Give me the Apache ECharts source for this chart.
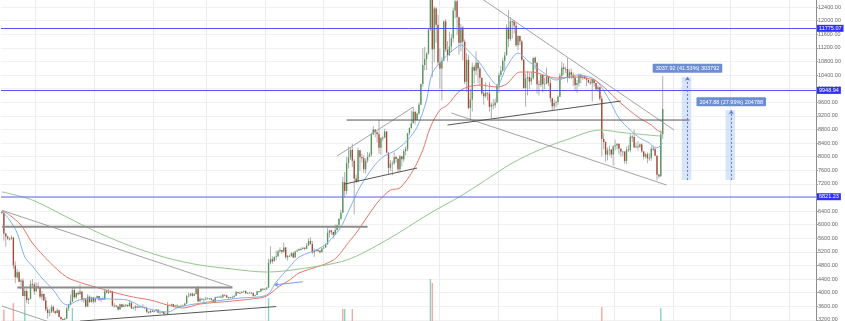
<!DOCTYPE html>
<html>
<head>
<meta charset="utf-8">
<title>BTC daily</title>
<script src="https://cdn.jsdelivr.net/npm/echarts@6/dist/echarts.min.js"></script>
<style>
  html, body { margin: 0; padding: 0; background: #ffffff; }
  #chart { width: 845px; height: 321px; }
</style>
</head>
<body>
<div id="chart"></div>
<script>
/* global echarts */

// first candle date and number of day slots on the time axis (incl. empty future)
const startDate = Date.UTC(2018, 10, 13);
const totalDays = 428;

// daily candles: [open, high, low, close]
const ohlc = [
    // Nov 2018 (13-30)
    [6380,6400,6300,6350],[6350,6390,5530,5740],[5740,5760,5350,5650],[5650,5680,5550,5590],
    [5590,5610,5530,5580],[5580,5680,5560,5620],[5620,5630,4700,4800],[4800,4920,4280,4450],
    [4450,4690,4410,4600],[4600,4640,4300,4320],[4320,4400,4100,4360],[4360,4420,3890,3900],
    [3900,4120,3500,4050],[4050,4100,3700,3780],[3780,3850,3660,3820],[3820,4360,3810,4250],
    [4250,4400,4150,4240],[4240,4300,3940,4040],
    // Dec 2018
    [4040,4300,4020,4190],[4190,4300,4100,4140],[4140,4150,3830,3880],[3880,4050,3780,3960],
    [3960,3970,3760,3770],[3770,3870,3450,3500],[3500,3580,3230,3400],[3400,3520,3300,3420],
    [3420,3640,3400,3580],[3580,3620,3400,3450],[3450,3470,3360,3400],[3400,3540,3390,3480],
    [3480,3490,3270,3280],[3280,3300,3180,3220],[3220,3240,3180,3200],[3200,3270,3190,3230],
    [3230,3590,3230,3540],[3540,3670,3460,3650],[3650,3940,3620,3740],[3740,4140,3720,4070],
    [4070,4180,3820,3860],[3860,4000,3820,3990],[3990,4040,3920,3950],[3950,4240,3950,4030],
    [4030,4030,3730,3780],[3780,3850,3700,3800],[3800,3830,3560,3590],[3590,3960,3580,3880],
    [3880,3920,3710,3720],[3720,3880,3700,3860],[3860,3870,3680,3740],
    // Jan 2019
    [3740,3850,3700,3840],[3840,3920,3800,3900],[3900,3900,3760,3790],[3790,3850,3730,3820],
    [3820,3880,3780,3800],[3800,4090,3780,4040],[4040,4070,3980,4000],[4000,4110,3960,4010],
    [4010,4070,3990,4030],[4030,4050,3580,3620],[3620,3690,3560,3620],[3620,3640,3560,3590],
    [3590,3610,3470,3500],[3500,3670,3500,3660],[3660,3670,3550,3580],[3580,3670,3580,3620],
    [3620,3660,3560,3640],[3640,3650,3580,3600],[3600,3760,3600,3700],[3700,3720,3520,3540],
    [3540,3580,3510,3550],[3550,3640,3460,3590],[3590,3610,3540,3560],[3560,3610,3550,3590],
    [3590,3600,3550,3580],[3580,3660,3570,3580],[3580,3590,3510,3550],[3550,3560,3400,3440],
    [3440,3450,3380,3410],[3410,3490,3400,3460],[3460,3500,3430,3440],
    // Feb 2019
    [3440,3480,3420,3460],[3460,3510,3440,3500],[3500,3500,3400,3410],[3410,3430,3390,3410],
    [3410,3440,3400,3430],[3430,3440,3350,3370],[3370,3390,3360,3370],[3370,3730,3360,3630],
    [3630,3650,3610,3630],[3630,3680,3600,3660],[3660,3660,3590,3600],[3600,3640,3570,3620],
    [3620,3660,3580,3600],[3600,3620,3570,3580],[3580,3650,3580,3600],[3600,3650,3600,3620],
    [3620,3700,3600,3680],[3680,3930,3670,3890],[3890,4000,3860,3910],[3910,3980,3890,3970],
    [3970,4000,3880,3910],[3910,3980,3900,3960],[3960,4160,3950,4130],[4130,4200,3730,3740],
    [3740,3860,3740,3820],[3820,3830,3780,3800],[3800,3830,3690,3810],[3810,3880,3780,3820],
    // Mar 2019
    [3820,3860,3810,3830],[3830,3840,3790,3830],[3830,3840,3770,3790],[3790,3800,3700,3710],
    [3710,3880,3700,3860],[3860,3900,3840,3870],[3870,3910,3860,3880],[3880,3920,3830,3860],
    [3860,3960,3850,3940],[3940,3940,3890,3920],[3920,3930,3840,3860],[3860,3880,3810,3870],
    [3870,3880,3840,3860],[3860,3910,3830,3860],[3860,3920,3860,3910],[3910,4050,3900,4020],
    [4020,4020,3970,3990],[3990,4040,3960,3990],[3990,4040,3980,4020],[4020,4060,4000,4040],
    [4040,4070,3960,3980],[3980,4010,3970,3990],[3990,4020,3980,4000],[4000,4010,3970,3990],
    [3990,4000,3880,3910],[3910,3940,3890,3930],[3930,4050,3920,4040],[4040,4050,4010,4030],
    [4030,4120,4020,4110],[4110,4130,4060,4100],[4100,4120,4090,4110],
    // Apr 2019
    [4110,4160,4080,4150],[4150,5000,4140,4880],[4880,5360,4830,4980],[4980,5070,4850,4920],
    [4920,5060,4920,5050],[5050,5230,4950,5070],[5070,5260,5050,5220],[5220,5330,5170,5250],
    [5250,5250,5140,5200],[5200,5470,5180,5330],[5330,5330,4990,5040],[5040,5110,4940,5080],
    [5080,5110,5050,5080],[5080,5180,5050,5160],[5160,5200,5010,5030],[5030,5230,5030,5210],
    [5210,5270,5200,5240],[5240,5300,5240,5280],[5280,5330,5240,5280],[5280,5340,5270,5320],
    [5320,5330,5240,5290],[5290,5460,5280,5380],[5380,5600,5370,5520],[5520,5630,5410,5430],
    [5430,5520,5140,5180],[5180,5300,5050,5240],[5240,5270,5200,5250],[5250,5280,5190,5230],
    [5230,5250,5150,5190],[5190,5320,5180,5300],
    // May 2019
    [5300,5360,5290,5330],[5330,5440,5320,5420],[5420,5900,5420,5760],[5760,5850,5620,5830],
    [5830,5850,5700,5780],[5780,5790,5600,5700],[5700,6000,5700,5840],[5840,6000,5800,5980],
    [5980,6180,5980,6170],[6170,6430,6140,6350],[6350,7400,6350,7250],[7250,7550,6800,6990],
    [6990,8000,6880,7810],[7810,8300,7650,7980],[7980,8280,7900,8200],[8200,8380,7690,7880],
    [7880,7930,6300,7360],[7360,7470,7220,7260],[7260,8260,7250,8190],[8190,8190,7580,7990],
    [7990,8090,7830,7950],[7950,8040,7520,7630],[7630,7960,7500,7880],[7880,8140,7820,8000],
    [8000,8120,7980,8060],[8060,8690,8000,8660],[8660,8900,8630,8800],[8800,8810,8570,8720],
    [8720,8740,8420,8660],[8660,9080,8090,8260],[8260,8580,8050,8550],
    // Jun 2019
    [8550,8620,8460,8560],[8560,8820,8540,8740],[8740,8750,8100,8120],[8120,8120,7480,7670],
    [7670,7900,7580,7790],[7790,7880,7450,7800],[7800,8130,7770,7990],[7990,8030,7820,7930],
    [7930,7960,7520,7630],[7630,8060,7560,8010],[8010,8020,7710,7920],[7920,8220,7850,8160],
    [8160,8300,8040,8230],[8230,8700,8160,8690],[8690,8860,8630,8840],[8840,9360,8830,8980],
    [8980,9460,8980,9320],[9320,9330,8950,9080],[9080,9300,9050,9270],[9270,9600,9230,9530],
    [9530,10150,9520,10140],[10140,11200,10060,10700],[10700,11230,10540,10870],[10870,11080,10550,11030],
    [11030,11750,11000,11740],[11740,13800,11700,12930],[12930,13330,10340,11160],[11160,12430,10780,12360],
    [12360,12400,11350,11880],[11880,12180,10680,10770],
    // Jul 2019
    [10770,11190,10000,10590],[10590,10930,9650,10820],[10820,12000,10820,11980],[11980,12050,11080,11150],
    [11150,11400,10800,10980],[10980,11680,10980,11240],[11240,11600,11090,11480],[11480,12380,11360,12300],
    [12300,12800,12070,12570],[12570,13150,11580,12100],[12100,12100,11000,11350],[11350,11900,11100,11800],
    [11800,11840,10830,11380],[11380,11450,10130,10200],[10200,11050,9900,10850],[10850,11000,9400,9430],
    [9430,9990,9080,9680],[9680,10770,9330,10640],[10640,10700,10150,10530],[10530,11100,10400,10760],
    [10760,10840,10160,10590],[10590,10650,10070,10320],[10320,10320,9820,9860],[9860,9920,9530,9780],
    [9780,10180,9730,9880],[9880,9890,9660,9860],[9860,10190,9330,9470],[9470,9600,9130,9530],
    [9530,9690,9390,9510],[9510,9710,9430,9590],[9590,10130,9570,10090],
    // Aug 2019
    [10090,10470,9880,10400],[10400,10660,10340,10530],[10530,10910,10500,10820],[10820,11080,10560,10980],
    [10980,11890,10980,11800],[11800,12310,11220,11460],[11460,12100,11400,11980],[11980,12000,11470,11970],
    [11970,12010,11630,11850],[11850,11960,11230,11280],[11280,11570,11130,11550],[11550,11560,11280,11390],
    [11390,11440,10800,10850],[10850,10870,9990,10020],[10020,10440,9470,10300],[10300,10510,9800,10340],
    [10340,10460,9990,10210],[10210,10480,10110,10310],[10310,10910,10270,10910],[10910,10950,10560,10760],
    [10760,10770,9860,10130],[10130,10240,9800,10110],[10110,10420,10050,10400],[10400,10420,9890,10130],
    [10130,10330,9980,10140],[10140,10620,10140,10360],[10360,10380,10070,10170],[10170,10280,9600,9720],
    [9720,9730,9340,9480],[9480,9680,9380,9580],[9580,9650,9450,9600],
    // Sep 2019
    [9600,9800,9520,9760],[9760,10450,9750,10380],[10380,10790,10290,10620],[10620,10750,10400,10580],
    [10580,10650,10460,10580],[10580,10900,10180,10320],[10320,10570,10300,10480],[10480,10590,10290,10410],
    [10410,10480,10070,10320],[10320,10380,9960,10110],[10110,10260,9870,10160],[10160,10450,10060,10410],
    [10410,10440,10150,10350],[10350,10390,10260,10360],[10360,10380,10280,10300],[10300,10360,10080,10260],
    [10260,10270,10160,10190],[10190,10260,10110,10160],[10160,10300,9620,10270],[10270,10270,10060,10170],
    [10170,10170,9960,9980],[9980,10100,9900,10040],[10040,10060,9650,9700],[9700,9790,8010,8520],
    [8520,8690,8220,8430],[8430,8450,7850,8060],[8060,8270,7890,8190],[8190,8320,8030,8210],
    [8210,8220,7960,8060],[8060,8340,7740,8300],
    // Oct 2019 (1-26)
    [8300,8500,8180,8330],[8330,8390,8210,8380],[8380,8390,8060,8230],[8230,8240,8000,8150],
    [8150,8170,8010,8150],[8150,8160,7790,7870],[7870,8300,7780,8210],[8210,8340,8140,8190],
    [8190,8670,8120,8590],[8590,8640,8430,8580],[8580,8800,8270,8270],[8270,8420,8260,8300],
    [8300,8450,8180,8290],[8290,8390,8260,8360],[8360,8400,8110,8150],[8150,8170,7920,8000],
    [8000,8110,7950,8070],[8070,8120,7810,7950],[7950,8100,7880,7960],[7960,8300,7880,8230],
    [8230,8330,8160,8220],[8220,8300,8030,8030],[8030,8040,7300,7470],[7470,7490,7360,7420],
    [7420,8770,7400,8660],[8660,10370,8520,9403.67]
];

// moving averages: [day index, price]
const maFast = [
    [0,6400],[4,6135],[8,5752],[12,5046],[16,4781],[21,4428],[27,4075],[32,3693],[35,3634],[39,3752],
    [46,3840],[57,3810],[66,3781],[74,3575],[87,3428],[93,3575],[108,3722],[125,3840],[139,3928],[144,4310],
    [151,4752],[156,5046],[168,5340],[177,5841],[183,6517],[188,7105],[195,7694],[200,7988],[207,8194],[213,8488],
    [218,8871],[223,9666],[226,10460],[234,10989],[239,11225],[241,11284],[246,11048],[251,10754],[256,10342],[260,10107],
    [265,10636],[271,11048],[277,10784],[284,10489],[291,10254],[302,10401],[310,10313],[314,10107],[319,9666],[324,9136],
    [330,8783],[335,8547],[340,8400],[343,8253],[345,8283],[347,8400]
];
const maMid = [
    [0,6429],[4,6282],[10,5988],[16,5458],[25,4899],[34,4457],[42,4281],[51,4134],[60,3987],[69,3869],
    [78,3781],[87,3634],[95,3546],[104,3664],[121,3752],[135,3840],[139,3900],[146,4200],[151,4369],[156,4575],
    [174,4958],[183,5546],[186,5752],[197,6635],[204,7017],[209,7076],[216,7606],[221,8194],[225,8871],[230,9371],
    [234,9519],[241,9960],[251,10107],[260,10048],[265,10136],[272,10489],[279,10489],[286,10371],[291,10313],[301,10342],
    [311,10254],[316,10048],[325,9577],[334,9165],[341,8930],[344,8783],[347,8700]
];
const maSlow = [
    [0,6964],[16,6723],[34,6224],[51,5752],[69,5340],[87,5016],[104,4810],[121,4693],[139,4605],[156,4693],
    [181,4958],[202,5546],[225,6341],[240,6811],[254,7311],[268,7812],[282,8194],[296,8488],[314,8783],[328,8695],
    [347,8600]
];

// volume bars that rise into view: [day index, volume, 1 = up / 0 = down]
const volumeSpikes = [
    [1,7,0],[6,8.9,0],[12,7,1],[37,7.5,1],[140,10.4,1],[179,7.2,0],[180,7.2,1],[184,7.2,0],
    [225,16,1],[226,14.8,0],[315,7.8,0],[346,7.5,1]
];

// drawings: each line is [[day index, price], [day index, price]]
const lightLines = [
    [[0,6420],[121,4165]],
    [[0,3605],[25,3134]],
    [[176,8018],[216,9460]],
    [[243,12990],[353,8783]],
    [[236,9283],[349,7165]]
];
const darkLines = [
    [[41,3160],[144,3590]],
    [[180,7194],[218,7665]],
    [[181,9077],[361,9077]],
    [[234,8930],[325,9636]]
];
const thickLines = [
    [[8,4150],[121,4150]],
    [[0,5940],[192,5940]]
];
const arrowLine = [[158,4320],[143,4225]];

// horizontal levels and last price
const resistanceLevels = [11775.07, 9948.94];
const supportLevel = 6821.23;
const lastPrice = 9403.67;

// price range measurements
const measureSpan = [[357,362],[380,385]];
const measureBase = [7315, 7316];
const measureChange = [3037.92, 2047.88];
const measurePct = [41.53, 27.99];
const measureTicks = [303792, 204788];

const upColor = '#53995f';
const downColor = '#a9493a';
const labelFont = 'Liberation Sans';

const buildDates = () => {
    const out = [];
    for (let i = 0; i < totalDays; i++) {
        out.push(new Date(startDate + i * 86400000).toISOString().slice(0, 10));
    }
    return out;
};

function renderCandle(params, api) {
    const i = api.value(0);
    const open = api.value(1), high = api.value(2), low = api.value(3), close = api.value(4);
    const hi = api.coord([i, high]);
    const lo = api.coord([i, low]);
    const o = api.coord([i, open]);
    const c = api.coord([i, close]);
    const w = api.size([1, 0])[0] * 0.72;
    return {
        type: 'group',
        children: [
            {
                type: 'line',
                shape: { x1: hi[0], y1: hi[1], x2: lo[0], y2: lo[1] },
                style: { stroke: '#b0b0b0', lineWidth: 1 }
            },
            {
                type: 'rect',
                shape: {
                    x: o[0] - w / 2,
                    y: Math.min(o[1], c[1]),
                    width: w,
                    height: Math.max(Math.abs(o[1] - c[1]), 0.8)
                },
                style: { fill: close >= open ? upColor : downColor }
            }
        ]
    };
}

const segLine = (seg, color, width) => ({
    type: 'line',
    data: seg,
    showSymbol: false,
    silent: true,
    z: 4,
    lineStyle: { color: color, width: width },
    animation: false
});

const axisTag = (bg) => ({
    show: true,
    position: 'end',
    distance: 1,
    formatter: p => Number(p.value).toFixed(2),
    color: '#ffffff',
    backgroundColor: bg,
    padding: [1, 2, 0, 2],
    fontSize: 5.5,
    fontFamily: labelFont
});

function getOption() {
    const dates = buildDates();

    const levelMarks = resistanceLevels.map(v => ({
        yAxis: v,
        lineStyle: { color: '#5555ff', width: 1, type: 'solid' },
        label: axisTag('#3030ff')
    }));
    levelMarks.push({
        yAxis: supportLevel,
        lineStyle: { color: 'rgba(110,110,255,0.55)', width: 2, type: 'solid' },
        label: axisTag('#3030ff')
    });
    levelMarks.push({
        yAxis: lastPrice,
        lineStyle: { opacity: 0 },
        label: axisTag('#5b9e7b')
    });

    const measureLines = measureSpan.map((span, k) => {
        const mid = Math.round((span[0] + span[1]) / 2);
        const text = measureChange[k].toFixed(2) + ' (' + measurePct[k].toFixed(2) + '%) ' + measureTicks[k];
        return [
            { coord: [mid, measureBase[k]] },
            {
                coord: [mid, measureBase[k] + measureChange[k]],
                lineStyle: { color: '#5a7fc9', width: 1, type: [2, 2] },
                label: {
                    show: true,
                    position: 'end',
                    distance: 4,
                    formatter: text,
                    color: '#ffffff',
                    backgroundColor: '#6d8fd2',
                    padding: [2, 3, 1, 3],
                    borderRadius: 1,
                    fontSize: 5.5,
                    fontFamily: labelFont
                }
            }
        ];
    });
    measureLines.forEach(m => { m[0].lineStyle = m[1].lineStyle; });

    const measureAreas = measureSpan.map((span, k) => [
        { coord: [span[0], measureBase[k]] },
        { coord: [span[1], measureBase[k] + measureChange[k]] }
    ]);

    const series = [
        {
            name: 'candles',
            type: 'custom',
            renderItem: renderCandle,
            data: ohlc.map((r, i) => [i, r[0], r[1], r[2], r[3]]),
            encode: { x: 0, y: [1, 2, 3, 4] },
            z: 2,
            animation: false
        },
        {
            name: 'volume',
            type: 'bar',
            yAxisIndex: 1,
            barWidth: 1.4,
            z: 1,
            data: volumeSpikes.map(v => ({
                value: [v[0], v[1]],
                itemStyle: { color: v[2] ? '#8fd0c2' : '#f5a7a2' }
            })),
            animation: false
        },
        {
            name: 'maFast', type: 'line', data: maFast, smooth: 0.3, showSymbol: false, silent: true, z: 3,
            lineStyle: { color: '#7fb1ee', width: 1 }, animation: false
        },
        {
            name: 'maMid', type: 'line', data: maMid, smooth: 0.3, showSymbol: false, silent: true, z: 3,
            lineStyle: { color: '#e5776b', width: 1 }, animation: false
        },
        {
            name: 'maSlow', type: 'line', data: maSlow, smooth: 0.3, showSymbol: false, silent: true, z: 3,
            lineStyle: { color: '#93c78d', width: 1 }, animation: false,
            markLine: {
                silent: true,
                symbol: 'none',
                animation: false,
                data: levelMarks
            }
        },
        {
            name: 'measure', type: 'line', data: [[measureSpan[0][0], measureBase[0]]], showSymbol: false,
            silent: true, z: 5, lineStyle: { opacity: 0 }, animation: false,
            markArea: {
                silent: true,
                itemStyle: { color: 'rgba(168,196,240,0.45)' },
                data: measureAreas
            },
            markLine: {
                silent: true,
                symbol: ['none', 'arrow'],
                symbolSize: 4,
                animation: false,
                data: measureLines
            }
        },
        {
            name: 'arrow', type: 'line', data: arrowLine, showSymbol: false, silent: true, z: 4,
            lineStyle: { opacity: 0 }, animation: false,
            markLine: {
                silent: true,
                symbol: ['none', 'arrow'],
                symbolSize: 4,
                animation: false,
                lineStyle: { color: '#7b9bea', width: 1, type: 'solid' },
                data: [[{ coord: arrowLine[0] }, { coord: arrowLine[1] }]]
            }
        }
    ];

    lightLines.forEach(s => series.push(segLine(s, '#a3a3a3', 1)));
    darkLines.forEach(s => series.push(segLine(s, '#555555', 1)));
    thickLines.forEach(s => series.push(segLine(s, '#8c8c8c', 2)));

    return {
        backgroundColor: '#ffffff',
        animation: false,
        grid: { left: 1, right: 29, top: -6.5, height: 339.9, outerBoundsMode: 'none', containLabel: false },
        xAxis: {
            type: 'category',
            data: dates,
            boundaryGap: true,
            axisLine: { show: false },
            axisTick: { show: false },
            axisLabel: { show: false },
            splitLine: {
                show: true,
                interval: (index, value) => value.slice(8) === '01',
                lineStyle: { color: '#ececec', width: 1 }
            }
        },
        yAxis: [
            {
                type: 'value',
                position: 'right',
                min: 2800,
                max: 12800,
                interval: 400,
                axisLine: { show: true, lineStyle: { color: '#8c8c8c' } },
                axisTick: { show: true, length: 2, lineStyle: { color: '#9a9a9a' } },
                axisLabel: {
                    fontSize: 5.5,
                    fontFamily: labelFont,
                    color: '#666666',
                    margin: 2,
                    formatter: v => v.toFixed(2)
                },
                splitLine: { show: true, lineStyle: { color: '#f1f1f1' } }
            },
            {
                type: 'value',
                min: 0,
                max: 100,
                show: false
            }
        ],
        series: series
    };
}

window.addEventListener('load', () => {
    const chart = echarts.init(document.getElementById('chart'), null, { renderer: 'canvas' });
    chart.setOption(getOption());
});
</script>
</body>
</html>
